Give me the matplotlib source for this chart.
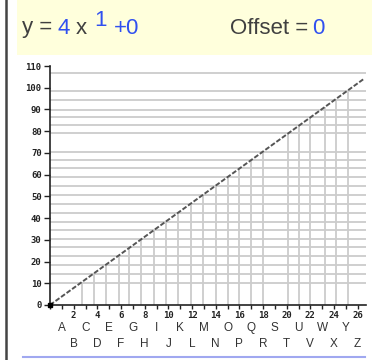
import numpy as np
import matplotlib
matplotlib.use("Agg")
import matplotlib.pyplot as plt
from matplotlib.patches import Rectangle
from matplotlib.lines import Line2D

# values
line_x = [0, 26.5]
line_y = [0, 104]
vert_x = [2.7, 3.7, 4.7, 5.8, 6.7, 7.7, 8.8, 9.8, 10.8, 11.9, 12.9, 14.0,
          15.0, 16.0, 17.0, 18.0, 20.1, 21.0, 22.0, 23.2, 24.2, 25.2]
horiz_y = [10.2, 14.2, 18.3, 22.5, 26.5, 30.3, 34.4, 38.2, 42.3, 46.3, 50.5,
           54.6, 58.9, 63.0, 66.8, 70.3, 79.0, 83.0, 86.7, 89.8, 94.5, 98.3, 106.6]
y_ticks = [0, 10, 20, 30, 40, 50, 60, 70, 80, 90, 100, 110]
x_ticks = list(range(0, 27))
x_labels = ["" if t % 2 or t == 0 else str(t) for t in x_ticks]
letters = list("ABCDEFGHIJKLMNOPQRSTUVWXYZ")

W, H = 375, 360
GRAY = "#404040"
BLUE = "#3050f0"
GRID = "#cccccc"

fig = plt.figure(figsize=(W / 100, H / 100), dpi=100)
fig.patch.set_facecolor("white")

def fx(px):
    return px / W

def fy(py):
    return 1 - py / H

# header box and frame lines
fig.patches.append(Rectangle((fx(17), fy(55)), fx(355), 55 / H,
                             transform=fig.transFigure, facecolor="#ffffdc",
                             edgecolor="none", zorder=0))
fig.lines.append(Line2D([fx(6), fx(6)], [0, 1], transform=fig.transFigure,
                        color="#444444", lw=1.8))
fig.lines.append(Line2D([fx(23), fx(365)], [fy(357), fy(357)],
                        transform=fig.transFigure, color="#a0a8f0", lw=1.5))

# header text
fs = 16
tx = dict(fontsize=fs, family="Liberation Sans", va="center", ha="left")
fig.text(fx(22), fy(28), "y =", color=GRAY, **tx)
fig.text(fx(57), fy(28), "4", color=BLUE, **tx)
fig.text(fx(76), fy(28), "x", color=GRAY, **tx)
fig.text(fx(94), fy(20), "1", color=BLUE, **tx)
fig.text(fx(114), fy(28), "+0", color=BLUE, **tx)
fig.text(fx(230), fy(28), "Offset =", color=GRAY, **tx)
fig.text(fx(312), fy(28), "0", color=BLUE, **tx)

# plot area
x0, x1 = 50, 366
y0, y1 = 305, 66
ax = fig.add_axes([fx(x0), fy(y0), (x1 - x0) / W, (y0 - y1) / H])
ax.set_xlim(0, 26.7)
ax.set_ylim(0, 110)
ax.patch.set_alpha(0)

for hy in horiz_y:
    ax.plot([0, 26.7], [hy, hy], color=GRID, lw=1.3, zorder=1,
            solid_capstyle="butt")
vert_top = np.interp(vert_x, line_x, line_y)
ax.vlines(vert_x, 0, vert_top, color=GRID, lw=1.3, zorder=1)

ax.plot(line_x, line_y, color="#555555", lw=1.4, ls=(0, (2.5, 1)), zorder=3)
ax.plot([0], [0], marker="s", ms=3, color="black", zorder=4, clip_on=False)

for s in ["top", "right"]:
    ax.spines[s].set_visible(False)
for s in ["left", "bottom"]:
    ax.spines[s].set_color("#222222")
    ax.spines[s].set_linewidth(1.2)
ax.spines["left"].set_bounds(0, 110)

ax.set_yticks(y_ticks)
ax.set_yticklabels([str(t) for t in y_ticks])
ax.set_xticks(x_ticks)
ax.set_xticklabels(x_labels)
ax.tick_params(axis="y", length=4, width=1, pad=2, labelsize=6.5,
               colors="#222222")
ax.tick_params(axis="x", length=3, width=1, pad=1.5, labelsize=6.5,
               colors="#222222")
for lab in ax.get_xticklabels() + ax.get_yticklabels():
    lab.set_fontweight("bold")
    lab.set_family("DejaVu Sans Mono")

# letter rows under the x axis
for i, letter in enumerate(letters):
    row_y = -10.5 if i % 2 == 0 else -18
    ax.text(i + 1, row_y, letter, ha="center", va="center", fontsize=8.5,
            family="Liberation Sans", color="#333333", clip_on=False)

fig.savefig("out.png", dpi=100)
